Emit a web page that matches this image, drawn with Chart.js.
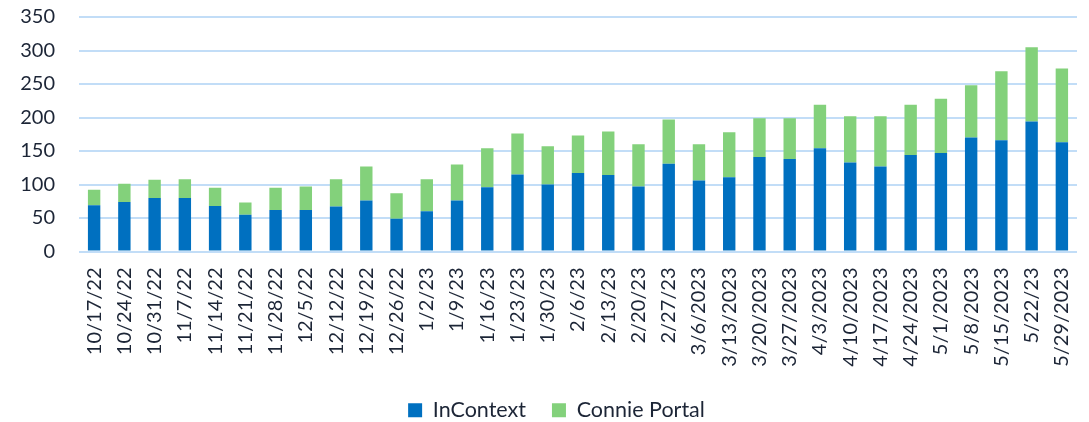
<!DOCTYPE html>
<html>
<head>
<meta charset="utf-8">
<script src="https://cdn.jsdelivr.net/npm/chart.js@4"></script>
<style>
  html, body { margin: 0; padding: 0; background: #ffffff; }
  #wrap { width: 1089px; height: 422px; position: relative; }
</style>
</head>
<body>
<div id="wrap"><canvas id="c"></canvas></div>
<script>
const categories = ["10/17/22","10/24/22","10/31/22","11/7/22","11/14/22","11/21/22","11/28/22","12/5/22","12/12/22","12/19/22","12/26/22","1/2/23","1/9/23","1/16/23","1/23/23","1/30/23","2/6/23","2/13/23","2/20/23","2/27/23","3/6/2023","3/13/2023","3/20/2023","3/27/2023","4/3/2023","4/10/2023","4/17/2023","4/24/2023","5/1/2023","5/8/2023","5/15/2023","5/22/23","5/29/2023"];
const inContext = [69,74,80,80,68,55,62,62,67,76,49,60,76,96,115,100,117,114,97,131,106,111,141,138,154,133,127,144,147,170,166,194,163];
const conniePortal = [23,27,27,28,27,18,33,35,41,51,38,48,54,58,61,57,56,65,63,66,54,67,58,61,65,69,75,75,81,78,103,111,110];
const yTicks = [0,50,100,150,200,250,300,350];

const FONT = 'Lato, "Open Sans", sans-serif';
const TXT = '#1c2536';

const legendShift = {
  id: 'legendShift',
  afterLayout(chart) {
    const l = chart.legend;
    if (l) { l.left += 18; l.right += 18; }
  }
};

new Chart(document.getElementById('c'), {
  type: 'bar',
  data: {
    labels: categories,
    datasets: [
      { label: 'InContext', data: inContext, backgroundColor: '#0070C0', borderWidth: 0 },
      { label: 'Connie Portal', data: conniePortal, backgroundColor: '#83D17B', borderWidth: 0 }
    ]
  },
  plugins: [legendShift],
  options: {
    responsive: true,
    maintainAspectRatio: false,
    animation: false,
    layout: { padding: { top: 17, right: 12, bottom: -9, left: 0 } },
    datasets: { bar: { barPercentage: 0.41, categoryPercentage: 1.0 } },
    plugins: {
      legend: {
        position: 'bottom',
        labels: {
          font: { family: FONT, size: 21.5 },
          color: TXT,
          boxWidth: 14,
          boxHeight: 14,
          padding: 26
        }
      },
      tooltip: { enabled: false }
    },
    scales: {
      x: {
        stacked: true,
        grid: { display: false, drawTicks: true, tickLength: 16, tickColor: 'rgba(0,0,0,0)' },
        border: { display: false },
        ticks: {
          font: { family: FONT, size: 20 },
          color: TXT,
          minRotation: 90,
          maxRotation: 90,
          autoSkip: false,
          padding: 0
        },
        afterFit: (s) => { s.height = 122; }
      },
      y: {
        stacked: true,
        min: 0,
        max: 350,
        afterBuildTicks: (s) => { s.ticks = yTicks.map(v => ({ value: v })); },
        grid: { color: '#C2DDF7', lineWidth: 2, drawTicks: true, tickLength: 24, tickColor: 'rgba(0,0,0,0)' },
        border: { display: false },
        ticks: {
          font: { family: FONT, size: 20 },
          color: TXT,
          padding: 0
        },
        afterFit: (s) => { s.width = 79; }
      }
    }
  }
});
</script>
</body>
</html>
